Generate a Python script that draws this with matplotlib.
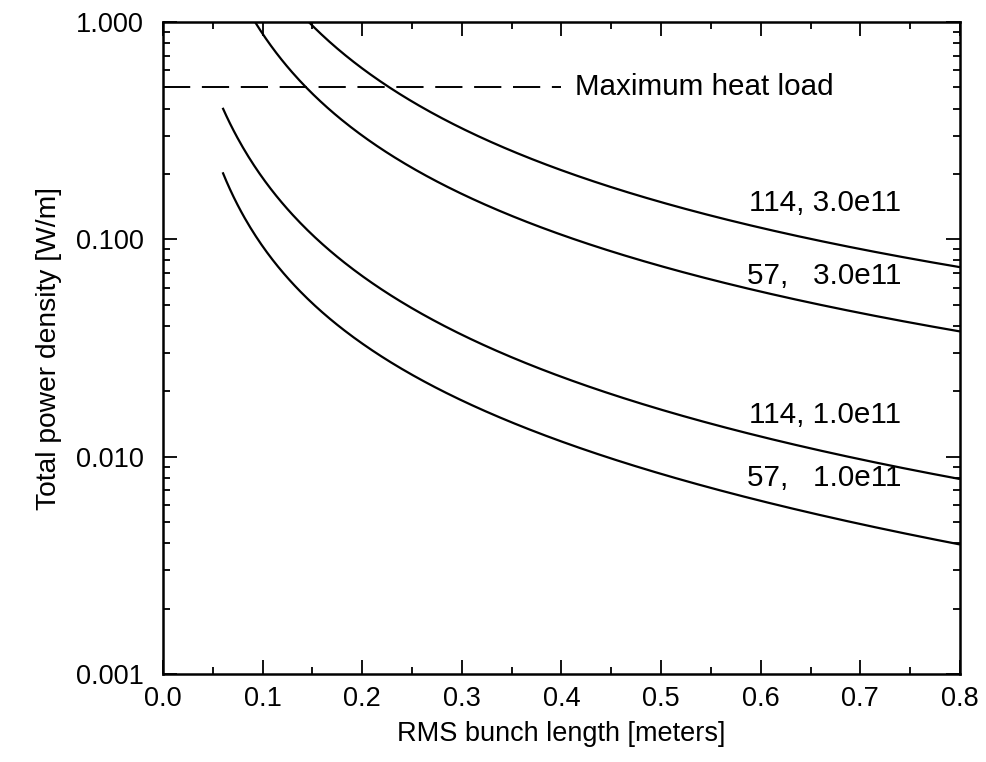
import numpy as np
import matplotlib
matplotlib.use("Agg")
import matplotlib.pyplot as plt
from matplotlib.ticker import LogLocator, MultipleLocator, NullFormatter

plt.rcParams['font.family'] = ['Liberation Sans', 'DejaVu Sans']

# Curve data (x = RMS bunch length [m], y = W/m)
x_114_3e11 = [0.1456, 0.171, 0.1977, 0.2279, 0.2981, 0.3483, 0.3985, 0.4487,
              0.4989, 0.5491, 0.5993, 0.6662, 0.7331, 0.8]
y_114_3e11 = [1.0, 0.799, 0.614, 0.497, 0.332, 0.255, 0.210, 0.173,
              0.148, 0.1285, 0.1137, 0.0988, 0.0843, 0.0738]

x_57_3e11 = [0.0924, 0.1007, 0.1408, 0.171, 0.1977, 0.2479, 0.2981, 0.3483,
             0.3985, 0.4487, 0.4989, 0.5491, 0.5993, 0.6662, 0.7331, 0.8]
y_57_3e11 = [1.0, 0.888, 0.497, 0.382, 0.304, 0.2256, 0.1644, 0.1285,
             0.106, 0.0874, 0.0746, 0.0648, 0.0573, 0.0498, 0.0433, 0.0376]

x_114_1e11 = [0.0599, 0.0806, 0.0974, 0.1476, 0.1977, 0.2647, 0.3316, 0.3985,
              0.4655, 0.5323, 0.5993, 0.6729, 0.7398, 0.8]
y_114_1e11 = [0.407, 0.2596, 0.1959, 0.1117, 0.0676, 0.0448, 0.0305, 0.0234,
              0.0186, 0.01482, 0.01265, 0.01024, 0.00875, 0.00801]

x_57_1e11 = [0.0599, 0.0806, 0.0974, 0.1476, 0.1977, 0.2647, 0.3316, 0.3985,
             0.4655, 0.5323, 0.606, 0.6729, 0.7398, 0.8]
y_57_1e11 = [0.2043, 0.133, 0.0905, 0.0534, 0.0338, 0.0222, 0.01562, 0.01168,
             0.00939, 0.00742, 0.00627, 0.00508, 0.00441, 0.00407]

curve_labels = ["114, 3.0e11", "57,   3.0e11", "114, 1.0e11", "57,   1.0e11"]
label_y = [0.147, 0.068, 0.01556, 0.00794]

heat_load = 0.5
yticks = [0.001, 0.01, 0.1, 1.0]
ytick_labels = ["0.001", "0.010", "0.100", "1.000"]
xticks = [0.0, 0.1, 0.2, 0.3, 0.4, 0.5, 0.6, 0.7, 0.8]
xtick_labels = ["0.0", "0.1", "0.2", "0.3", "0.4", "0.5", "0.6", "0.7", "0.8"]

fig = plt.figure(figsize=(9.86, 7.62), dpi=100)
ax = fig.add_axes([0.1653, 0.1155, 0.8083, 0.8556])

# Curves: smooth the read points with a cubic in log-log space
curves = [(x_114_3e11, y_114_3e11), (x_57_3e11, y_57_3e11),
          (x_114_1e11, y_114_1e11), (x_57_1e11, y_57_1e11)]
for xs, ys in curves:
    lx = np.log10(xs)
    ly = np.log10(ys)
    coef = np.polyfit(lx, ly, 3)
    xf = np.linspace(xs[0], xs[-1], 400)
    yf = 10 ** np.polyval(coef, np.log10(xf))
    ax.plot(xf, yf, color='black', lw=1.6, solid_capstyle='butt')

# Heat load line and label
ax.plot([0.0, 0.40], [heat_load, heat_load], color='black', lw=1.4,
        dashes=(14, 6))
ax.text(0.414, heat_load, "Maximum heat load", fontsize=21.3,
        va='center', ha='left')

for txt, yv in zip(curve_labels, label_y):
    ax.text(0.741, yv, txt, fontsize=21.3, va='center', ha='right')

# Axes
ax.set_yscale('log')
ax.set_xlim(0.0, 0.8)
ax.set_ylim(0.001, 1.0)
ax.set_yticks(yticks)
ax.set_yticklabels(ytick_labels)
ax.yaxis.set_minor_locator(LogLocator(base=10, subs=np.arange(2, 10)))
ax.yaxis.set_minor_formatter(NullFormatter())
ax.set_xticks(xticks)
ax.set_xticklabels(xtick_labels)
ax.xaxis.set_minor_locator(MultipleLocator(0.05))

ax.tick_params(which='both', direction='in', top=True, right=True, width=1.3)
ax.tick_params(which='major', length=10, labelsize=19.5)
ax.tick_params(axis='y', which='major', pad=14)
ax.tick_params(axis='x', which='major', pad=9)
ax.tick_params(which='minor', length=5)
for sp in ax.spines.values():
    sp.set_linewidth(1.8)

ax.set_xlabel("RMS bunch length [meters]", fontsize=19.5, labelpad=6)
ax.set_ylabel("Total power density [W/m]", fontsize=20.3, labelpad=10)

fig.savefig("out.png", dpi=100)
